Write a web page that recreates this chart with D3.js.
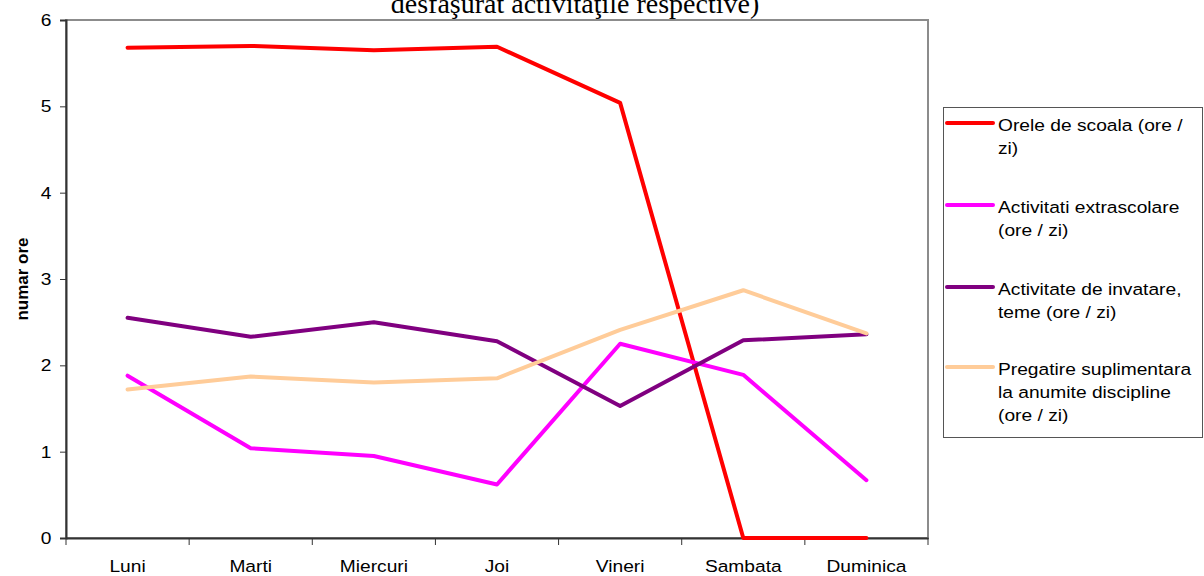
<!DOCTYPE html>
<html>
<head>
<meta charset="utf-8">
<script src="https://cdn.jsdelivr.net/npm/d3@7"></script>
<style>
  body { margin: 0; background: #fff; }
  svg { display: block; }
  text { font-family: "Liberation Sans", Arial, sans-serif; fill: #000; }
</style>
</head>
<body>
<div id="chart-area"></div>
<script>
// Data
var days = ["Luni", "Marti", "Miercuri", "Joi", "Vineri", "Sambata", "Duminica"];
var yTicks = [0, 1, 2, 3, 4, 5, 6];

var scoala = [5.68, 5.70, 5.65, 5.69, 5.04, 0, 0];
var extrascolare = [1.88, 1.04, 0.95, 0.62, 2.25, 1.89, 0.67];
var invatare = [2.55, 2.33, 2.50, 2.28, 1.53, 2.29, 2.36];
var pregatire = [1.72, 1.87, 1.80, 1.85, 2.41, 2.87, 2.37];

var seriesNames = [
  ["Orele de scoala (ore /", "zi)"],
  ["Activitati extrascolare", "(ore / zi)"],
  ["Activitate de invatare,", "teme (ore / zi)"],
  ["Pregatire suplimentara", "la anumite discipline", "(ore / zi)"]
];
var seriesColors = ["#ff0000", "#ff00ff", "#800080", "#ffcc99"];
var seriesValues = [scoala, extrascolare, invatare, pregatire];

var titleLine = "desfaşurat activităţile respective)";
var yLabelText = "numar ore";

var margin = { left: 66, right: 276, top: 20, bottom: 38 },
  width = 1204 - margin.left - margin.right,
  height = 576 - margin.top - margin.bottom;

// text in the reference is slightly wider than Liberation Sans
var stretch = "scale(1.13,1)";

var svg = d3.select("#chart-area")
  .append("svg")
  .attr("width", 1204)
  .attr("height", 576);

var g = svg.append("g")
  .attr("transform", "translate(" + margin.left + "," + margin.top + ")");

// Scales
var x = d3.scaleBand().domain(days).range([0, width]);
var y = d3.scaleLinear().domain([0, 6]).range([height, 0]);

// Plot frame (gray top/right)
g.append("rect")
  .attr("x", 0).attr("y", 0)
  .attr("width", width).attr("height", height)
  .attr("fill", "none")
  .attr("stroke", "#8c8c8c")
  .attr("stroke-width", 2);

// Y axis
var yAxis = g.append("g")
  .call(d3.axisLeft(y).tickValues(yTicks).tickFormat(d3.format("d")).tickSize(6).tickPadding(7));
yAxis.select(".domain").attr("stroke", "#333").attr("stroke-width", 2);
yAxis.selectAll(".tick line").attr("stroke", "#333");
yAxis.selectAll(".tick text")
  .style("font-family", "Liberation Sans, Arial, sans-serif")
  .style("font-size", "17px")
  .attr("transform", stretch);

// X axis: ticks at category boundaries
var xAxis = g.append("g")
  .attr("transform", "translate(0," + height + ")")
  .call(d3.axisBottom(x).tickSize(0).tickPadding(22));
xAxis.select(".domain").attr("stroke", "#333").attr("stroke-width", 2);
xAxis.selectAll(".tick text")
  .style("font-family", "Liberation Sans, Arial, sans-serif")
  .style("font-size", "17px")
  .attr("transform", stretch);
xAxis.selectAll(".bound")
  .data(d3.range(days.length + 1))
  .enter().append("line")
  .attr("class", "bound")
  .attr("x1", function(i) { return i * x.step(); })
  .attr("x2", function(i) { return i * x.step(); })
  .attr("y1", 0).attr("y2", 7)
  .attr("stroke", "#333");

// Y label
g.append("text")
  .attr("transform", "rotate(-90)")
  .attr("x", -y(3))
  .attr("y", -38)
  .attr("text-anchor", "middle")
  .style("font-size", "17px")
  .style("font-weight", "bold")
  .text(yLabelText);

// Title (second line of a longer title, top cut off by the frame)
svg.append("text")
  .attr("x", 575)
  .attr("y", 13)
  .attr("text-anchor", "middle")
  .style("font-family", "Liberation Serif, Times New Roman, serif")
  .style("font-size", "28px")
  .text(titleLine);

// Lines
var line = d3.line()
  .x(function(d, i) { return x(days[i]) + x.bandwidth() / 2; })
  .y(function(d) { return y(d); });

seriesValues.forEach(function(vals, k) {
  g.append("path")
    .attr("d", line(vals))
    .attr("fill", "none")
    .attr("stroke", seriesColors[k])
    .attr("stroke-width", 4)
    .attr("stroke-linejoin", "round")
    .attr("stroke-linecap", "round");
});

// Legend
var legend = svg.append("g").attr("transform", "translate(943,107)");
legend.append("rect")
  .attr("x", 0.5).attr("y", 0.5)
  .attr("width", 259).attr("height", 330)
  .attr("fill", "#fff")
  .attr("stroke", "#555");

var legendY = [16, 98, 180, 260];
seriesNames.forEach(function(lines, k) {
  legend.append("line")
    .attr("x1", 4).attr("x2", 50)
    .attr("y1", legendY[k]).attr("y2", legendY[k])
    .attr("stroke", seriesColors[k])
    .attr("stroke-width", 4)
    .attr("stroke-linecap", "round");
  var t = legend.append("g")
    .attr("transform", "translate(55," + (legendY[k] + 8) + ") " + stretch)
    .append("text")
    .attr("font-size", "17px");
  lines.forEach(function(s, j) {
    t.append("tspan")
      .attr("x", 0)
      .attr("dy", j === 0 ? 0 : 23)
      .text(s);
  });
});
</script>
</body>
</html>
